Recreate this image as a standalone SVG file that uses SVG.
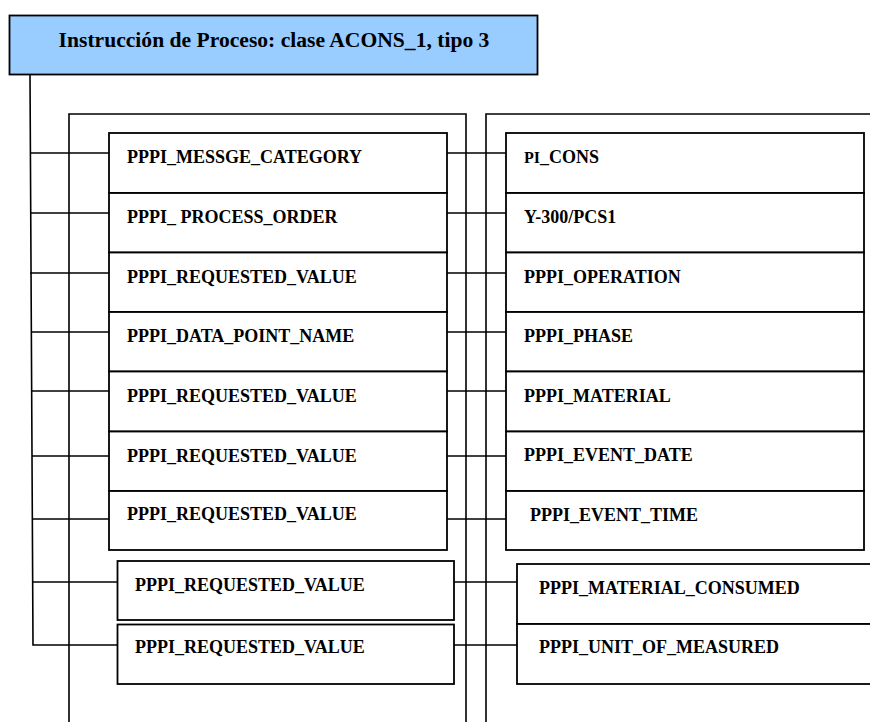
<svg xmlns="http://www.w3.org/2000/svg" width="870" height="722" viewBox="0 0 870 722">
  <style>
    .box { fill: #ffffff; stroke: #000000; stroke-width: 1.8; }
    .title { fill: #99ccff; stroke: #000000; stroke-width: 1.8; }
    .frame { fill: none; stroke: #000000; stroke-width: 1.6; }
    .wire { fill: none; stroke: #000000; stroke-width: 1.6; }
    .lbl { font-family: "Liberation Serif", "Times New Roman", serif; font-weight: bold; font-size: 18px; fill: #000000; }
    .head { font-family: "Liberation Serif", "Times New Roman", serif; font-weight: bold; font-size: 21.6px; fill: #000000; }
  </style>

  <!-- outer frames (open at the bottom / right) -->
  <g id="frames">
    <path class="frame" d="M69,722 V114 H466 V722"/>
    <path class="frame" d="M486,722 V114 H872"/>
  </g>

  <!-- connectors -->
  <g id="connectors">
    <path class="wire" d="M30,75 L33,645 H117"/>
    <path class="wire" d="M30,153 H109"/>
    <path class="wire" d="M30,213 H109"/>
    <path class="wire" d="M30,273 H109"/>
    <path class="wire" d="M31,332 H109"/>
    <path class="wire" d="M31,391 H109"/>
    <path class="wire" d="M32,456 H118"/>
    <path class="wire" d="M32,519 H118"/>
    <path class="wire" d="M33,582 H117"/>

    <path class="wire" d="M447,153 H506"/>
    <path class="wire" d="M447,213 H506"/>
    <path class="wire" d="M447,273 H506"/>
    <path class="wire" d="M447,332 H506"/>
    <path class="wire" d="M447,391 H506"/>
    <path class="wire" d="M432,456 H506"/>
    <path class="wire" d="M432,519 H506"/>
    <path class="wire" d="M454,582 H517"/>
    <path class="wire" d="M454,645 H517"/>
  </g>

  <!-- header -->
  <g id="header">
    <rect class="title" x="9.5" y="15.5" width="528" height="59"/>
    <text class="head" x="274" y="47" text-anchor="middle">Instrucción de Proceso: clase ACONS_1, tipo 3</text>
  </g>

  <!-- left column of fields -->
  <g id="f-message-category">
    <rect class="box" x="109" y="133" width="338" height="60"/>
    <text class="lbl" x="127" y="163">PPPI_MESSGE_CATEGORY</text>
  </g>
  <g id="f-process-order">
    <rect class="box" x="109" y="193" width="338" height="59.5"/>
    <text class="lbl" x="127" y="223">PPPI_ PROCESS_ORDER</text>
  </g>
  <g id="f-requested-value-1">
    <rect class="box" x="109" y="252.5" width="338" height="59.5"/>
    <text class="lbl" x="127" y="283">PPPI_REQUESTED_VALUE</text>
  </g>
  <g id="f-data-point-name">
    <rect class="box" x="109" y="312" width="338" height="59.5"/>
    <text class="lbl" x="127" y="342">PPPI_DATA_POINT_NAME</text>
  </g>
  <g id="f-requested-value-2">
    <rect class="box" x="109" y="371.5" width="338" height="60"/>
    <text class="lbl" x="127" y="402">PPPI_REQUESTED_VALUE</text>
  </g>
  <g id="f-requested-value-3">
    <rect class="box" x="109" y="431.5" width="338" height="59.5"/>
    <text class="lbl" x="127" y="462">PPPI_REQUESTED_VALUE</text>
  </g>
  <g id="f-requested-value-4">
    <rect class="box" x="109" y="491" width="338" height="59"/>
    <text class="lbl" x="127" y="520">PPPI_REQUESTED_VALUE</text>
  </g>
  <g id="f-requested-value-5">
    <rect class="box" x="117.5" y="561" width="336.5" height="59"/>
    <text class="lbl" x="135" y="591">PPPI_REQUESTED_VALUE</text>
  </g>
  <g id="f-requested-value-6">
    <rect class="box" x="117.5" y="624.5" width="336.5" height="59.5"/>
    <text class="lbl" x="135" y="653">PPPI_REQUESTED_VALUE</text>
  </g>

  <!-- right column of values -->
  <g id="v-cons">
    <rect class="box" x="506" y="133" width="358" height="60"/>
    <text class="lbl" x="524" y="163"><tspan font-size="16">PI</tspan>_CONS</text>
  </g>
  <g id="v-order">
    <rect class="box" x="506" y="193" width="358" height="59.5"/>
    <text class="lbl" x="524" y="223">Y-300/PCS1</text>
  </g>
  <g id="v-operation">
    <rect class="box" x="506" y="252.5" width="358" height="59.5"/>
    <text class="lbl" x="524" y="283">PPPI_OPERATION</text>
  </g>
  <g id="v-phase">
    <rect class="box" x="506" y="312" width="358" height="59.5"/>
    <text class="lbl" x="524" y="342">PPPI_PHASE</text>
  </g>
  <g id="v-material">
    <rect class="box" x="506" y="371.5" width="358" height="60"/>
    <text class="lbl" x="524" y="402">PPPI_MATERIAL</text>
  </g>
  <g id="v-event-date">
    <rect class="box" x="506" y="431.5" width="358" height="59.5"/>
    <text class="lbl" x="524" y="461">PPPI_EVENT_DATE</text>
  </g>
  <g id="v-event-time">
    <rect class="box" x="506" y="491" width="358" height="59"/>
    <text class="lbl" x="530" y="521">PPPI_EVENT_TIME</text>
  </g>
  <g id="v-material-consumed">
    <rect class="box" x="517" y="564" width="370" height="60"/>
    <text class="lbl" x="539" y="594">PPPI_MATERIAL_CONSUMED</text>
  </g>
  <g id="v-unit-of-measure">
    <rect class="box" x="517" y="624" width="370" height="60"/>
    <text class="lbl" x="539" y="653">PPPI_UNIT_OF_MEASURED</text>
  </g>
</svg>
